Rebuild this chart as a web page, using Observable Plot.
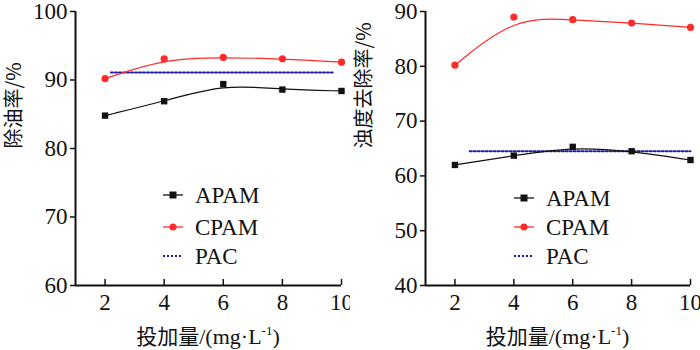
<!DOCTYPE html>
<html><head><meta charset="utf-8">
<script src="https://cdn.jsdelivr.net/npm/d3@7"></script>
<script src="https://cdn.jsdelivr.net/npm/@observablehq/plot@0.6"></script>
<style>
body{margin:0;background:#fff;}
#wrap{display:flex;width:700px;height:350px;}
.panel{position:relative;width:350px;height:350px;}
.panel svg{overflow:visible !important;}
.lg{position:absolute;font-family:serif;font-size:23px;color:#111;line-height:1;}
.row{position:absolute;left:0;display:flex;align-items:center;white-space:nowrap;height:26px;transform:translateY(-50%);}
.row svg{display:block;margin-right:11px;}
.xl{position:absolute;font-family:serif;font-size:22px;color:#111;white-space:nowrap;transform:translate(-50%,-50%);}
.xl .cjk{font-family:"Noto Sans CJK SC",sans-serif;font-size:21px;}
.xl sup{font-size:13px;vertical-align:9px;}
</style></head><body>
<div id="wrap"><div class="panel" id="p1"></div><div class="panel" id="p2"></div></div>
<script>
const dosage = [2, 4, 6, 8, 10];
const oilAPAM = [84.8, 86.9, 89.4, 88.6, 88.4];
const oilCPAM = [90.2, 93.1, 93.3, 93.1, 92.6];
const oilPAC = 91.1;
const oilPACRange = [2.2, 9.7];
const turbAPAM = [62.0, 63.7, 65.3, 64.5, 62.9];
const turbCPAM = [80.2, 89.0, 88.5, 87.9, 87.1];
const turbPAC = 64.5;
const turbPACRange = [2.5, 10];
const xTicks = [2, 4, 6, 8, 10];
const xDomain = [1, 10];
const oilTicks = [60, 70, 80, 90, 100];
const turbTicks = [40, 50, 60, 70, 80, 90];
const seriesNames = ["APAM", "CPAM", "PAC"];
const xLabelCJK = "投加量";
const xLabelMain = "/(mg·L";
const xLabelSup = "-1";
const oilLabel = "除油率/%";
const turbLabel = "浊度去除率/%";

const colors = {APAM: "#111", CPAM: "#ff2a2a", PAC: "#1a1aa6"};
const serifFont = "Liberation Serif, Times New Roman, serif";

function swatch(name) {
  const c = colors[name];
  if (name === "PAC") return `<svg width="22" height="10"><line x1="1" y1="5" x2="21" y2="5" stroke="${c}" stroke-width="2" stroke-dasharray="2,2"/></svg>`;
  const m = name === "APAM" ? `<rect x="7.5" y="1.5" width="7" height="7" fill="${c}"/>` : `<circle cx="11" cy="5" r="3.6" fill="${c}"/>`;
  return `<svg width="22" height="10"><line x1="1" y1="5" x2="21" y2="5" stroke="${c}" stroke-width="1.3"/>${m}</svg>`;
}

function panel(el, {apam, cpam, pac, pacRange, yTicks, yLabel, legendLeft, legendTops, mr}) {
  const yDomain = [yTicks[0], yTicks[yTicks.length - 1]];
  const apamRows = dosage.map((x, i) => ({x, y: apam[i]}));
  const cpamRows = dosage.map((x, i) => ({x, y: cpam[i]}));
  const pacRows = pacRange.map(x => ({x, y: pac}));
  const chart = Plot.plot({
    width: 350, height: 350,
    marginLeft: 75, marginRight: mr, marginTop: 11, marginBottom: 65,
    x: {domain: xDomain},
    y: {domain: yDomain},
    style: {fontFamily: "serif", fontSize: "23px", color: "#111", background: "#fff", overflow: "visible"},
    marks: [
      Plot.axisY({ticks: yTicks, tickSize: 5, tickPadding: 3, label: null, strokeWidth: 1.5, fontFamily: serifFont, fontSize: 23}),
      Plot.axisX({ticks: xTicks, tickSize: -6, tickPadding: 14, label: null, strokeWidth: 1.5, fontFamily: serifFont, fontSize: 23}),
      Plot.ruleX([xDomain[0]], {stroke: "#111", strokeWidth: 2}),
      Plot.ruleY([yDomain[0]], {stroke: "#111", strokeWidth: 2}),
      Plot.text([yLabel], {frameAnchor: "left", rotate: -90, dx: -61, fontSize: 20, fill: "#111", fontFamily: "Noto Sans CJK SC, sans-serif"}),
      Plot.line(pacRows, {x: "x", y: "y", stroke: colors.PAC, strokeWidth: 2, strokeDasharray: "2,2"}),
      Plot.line(apamRows, {x: "x", y: "y", stroke: colors.APAM, strokeWidth: 1.2, curve: "basis"}),
      Plot.line(cpamRows, {x: "x", y: "y", stroke: colors.CPAM, strokeWidth: 1.2, curve: "basis"}),
      Plot.dot(apamRows, {x: "x", y: "y", symbol: "square", r: 3.6, fill: colors.APAM}),
      Plot.dot(cpamRows, {x: "x", y: "y", symbol: "circle", r: 3.6, fill: colors.CPAM})
    ]
  });
  el.appendChild(chart);
  const lg = document.createElement("div");
  lg.className = "lg";
  lg.style.left = legendLeft + "px";
  lg.style.top = "0px";
  lg.innerHTML = seriesNames.map((n, i) => `<div class="row" style="top:${legendTops[i]}px">${swatch(n)}<span>${n}</span></div>`).join("");
  el.appendChild(lg);
  const xl = document.createElement("div");
  xl.className = "xl";
  xl.style.left = (75 + (350 - 75 - mr) / 2) + "px";
  xl.style.top = "335px";
  xl.innerHTML = `<span class="cjk">${xLabelCJK}</span>${xLabelMain}<sup>${xLabelSup}</sup>)`;
  el.appendChild(xl);
}

panel(document.getElementById("p1"), {apam: oilAPAM, cpam: oilCPAM, pac: oilPAC, pacRange: oilPACRange, yTicks: oilTicks, yLabel: oilLabel, legendLeft: 162, legendTops: [195, 227, 256], mr: 9});
panel(document.getElementById("p2"), {apam: turbAPAM, cpam: turbCPAM, pac: turbPAC, pacRange: turbPACRange, yTicks: turbTicks, yLabel: turbLabel, legendLeft: 163, legendTops: [198, 227, 256], mr: 10});
</script>
</body></html>
